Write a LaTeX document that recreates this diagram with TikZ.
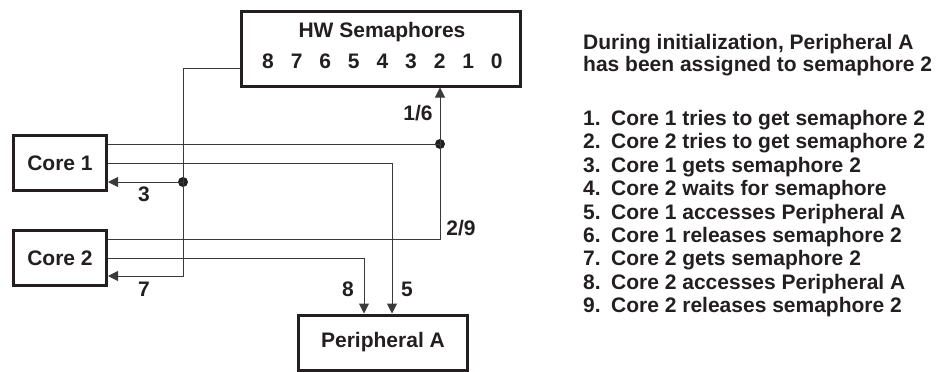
\documentclass[tikz,border=0pt]{standalone}
\usepackage{fontspec}
\setmainfont{Liberation Sans}
\usetikzlibrary{arrows.meta,calc}
\definecolor{ink}{HTML}{231F20}
\definecolor{wire}{HTML}{3A3A3A}
\tikzset{
  box/.style={draw=ink, line width=3pt, rectangle, inner sep=0pt},
  lbl/.style={text=ink, font=\fontsize{21}{24}\selectfont\bfseries, inner sep=0pt},
  wireline/.style={draw=wire, line width=1pt},
  arr/.style={wireline, -{Triangle[length=10pt,width=10pt]}},
  dot/.style={circle, fill=ink, minimum size=10pt, inner sep=0pt},
}
\begin{document}
\begin{tikzpicture}[x=1pt,y=-1pt]
\useasboundingbox (0,0) rectangle (938,372);
% boxes
\node[box, minimum width=279pt, minimum height=75pt] (hw) at (381,48.5) {};
\node[lbl] (hwt) at (382,32) {HW Semaphores};
\foreach \d [count=\i from 0] in {8,7,6,5,4,3,2,1,0}
  \node[lbl] (s\d) at ({268+28.6*\i},61) {\d};
\node[box, minimum width=93pt, minimum height=55pt, lbl] (c1) at (60,163) {Core 1};
\node[box, minimum width=93pt, minimum height=55pt, lbl] (c2) at (60,258) {Core 2};
\node[box, minimum width=169pt, minimum height=55pt, lbl] (pa) at (383,342.5) {Peripheral A};
% junctions
\node[dot] (jA) at (440,144) {};
\node[dot] (jB) at (183,182) {};
\coordinate (hwL) at ($(hw.west)+(0,19.5)$);
\coordinate (c2in) at ($(c2.east)+(0,18)$);
% connectors
\draw[wireline] ($(c1.east)+(0,-19)$) -- (jA.center);
\draw[arr] (jA.center) -- (jA.center |- hw.south);
\draw[arr] (c1.east) -| ($(pa.north)+(9,0)$);
\draw[arr] (jB.center) -- ($(c1.east)+(0,19)$);
\draw[wireline] (hwL) -| (jB.center);
\draw[arr] (jB.center) |- (c2in);
\draw[wireline] ($(c2.east)+(0,-19)$) -| (jA.center);
\draw[arr] (c2.east) -| ($(pa.north)+(-19,0)$);
% labels
\node[lbl] (l16) at (418,113) {1/6};
\node[lbl] (l3) at (144,194) {3};
\node[lbl] (l7) at (144,289) {7};
\node[lbl] (l29) at (461,228) {2/9};
\node[lbl] (l8) at (348,289) {8};
\node[lbl] (l5) at (407,289) {5};
% right text
\node[lbl, anchor=base west] (intro1) at (583,49.5) {During initialization, Peripheral A};
\node[lbl, anchor=base west] (intro2) at (583,71) {has been assigned to semaphore 2};
\foreach \t [count=\k] in {Core 1 tries to get semaphore 2,
  Core 2 tries to get semaphore 2,
  Core 1 gets semaphore 2,
  Core 2 waits for semaphore,
  Core 1 accesses Peripheral A,
  Core 1 releases semaphore 2,
  Core 2 gets semaphore 2,
  Core 2 accesses Peripheral A,
  Core 2 releases semaphore 2}
  \node[lbl, anchor=base west] (step\k) at (583,{125.5+23.4*(\k-1)}) {\makebox[28pt][l]{\k.}\t};
\end{tikzpicture}
\end{document}
